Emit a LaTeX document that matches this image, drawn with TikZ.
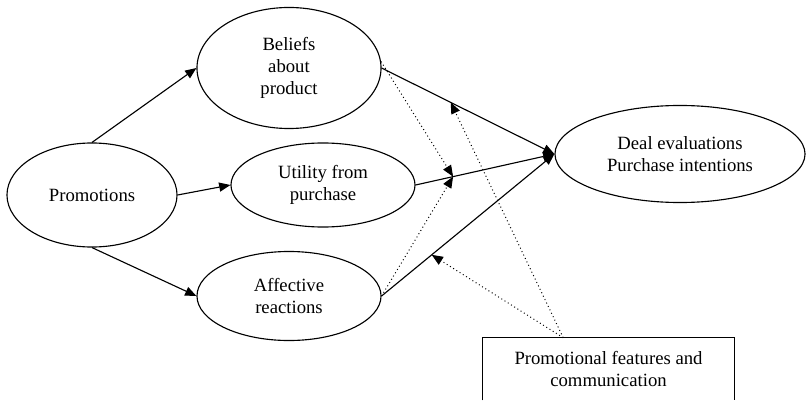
\documentclass[tikz,border=0pt]{standalone}
\usepackage{fontspec}
\setmainfont{Liberation Serif}
\usetikzlibrary{arrows.meta, calc, shapes.geometric}

\begin{document}
\begin{tikzpicture}[
    x=0.025cm, y=-0.025cm,
    >={Triangle[length=8pt, width=6.5pt]},
    font=\fontsize{13.3}{15.6}\selectfont,
    solidarrow/.style={->, line width=0.8pt},
    dotarrow/.style={->, dotted, line width=0.7pt},
    construct/.style={ellipse, draw, line width=0.8pt, inner sep=0pt,
                      align=center},
    sourcebox/.style={rectangle, inner sep=0pt,
                      minimum width=6.275cm, minimum height=1.55cm,
                      align=center},
    boxline/.style={line width=0.8pt},
]

% ============================================================
% FRAME (the box at the bottom is cut by the lower edge)
% ============================================================
\clip (0,0) rectangle (806,400);

% ============================================================
% NODES
% ============================================================
\node[construct, minimum width=4.25cm, minimum height=2.6cm] (promo)
    at (92,195) {Promotions};

\node[construct, minimum width=4.6cm, minimum height=3.025cm] (beliefs)
    at (289,68) {Beliefs\\about\\product};
\node[construct, minimum width=4.6cm, minimum height=2.1cm] (utility)
    at (323,185) {Utility from\\purchase};
\node[construct, minimum width=4.6cm, minimum height=2.225cm] (affect)
    at (289,296) {Affective\\reactions};

\node[construct, minimum width=6.25cm, minimum height=2.425cm] (deal)
    at (680,154) {Deal evaluations\\Purchase intentions};

\node[sourcebox] (features) at (608.5,369)
    {Promotional features and\\communication};
\draw[boxline] (features.south west) -- (features.north west)
    -- (features.north east) -- (features.south east);

% ============================================================
% PROMOTIONS -> MEDIATORS
% ============================================================
\draw[solidarrow] (promo.north) -- (beliefs.west);
\draw[solidarrow] (promo.east)  -- (utility.west);
\draw[solidarrow] (promo.south) -- (affect.west);

% ============================================================
% MEDIATORS -> DEAL EVALUATIONS (with points for the moderators)
% ============================================================
\draw[solidarrow] (beliefs.east) -- coordinate[pos=0.40] (bmid) (deal.west);
\draw[solidarrow] (utility.east) -- coordinate[pos=0.27] (umid) (deal.west);
\draw[solidarrow] (affect.east)  -- coordinate[pos=0.29] (amid) (deal.west);

% ============================================================
% MODERATING (dotted) ARROWS
% ============================================================
\coordinate (boxtop) at ($(features.north west)!0.32!(features.north east)$);
\draw[dotarrow] (beliefs.4) -- (umid);
\draw[dotarrow] (affect.east) -- (umid);
\draw[dotarrow] (boxtop) -- (bmid);
\draw[dotarrow] (boxtop) -- (amid);

\end{tikzpicture}
\end{document}
